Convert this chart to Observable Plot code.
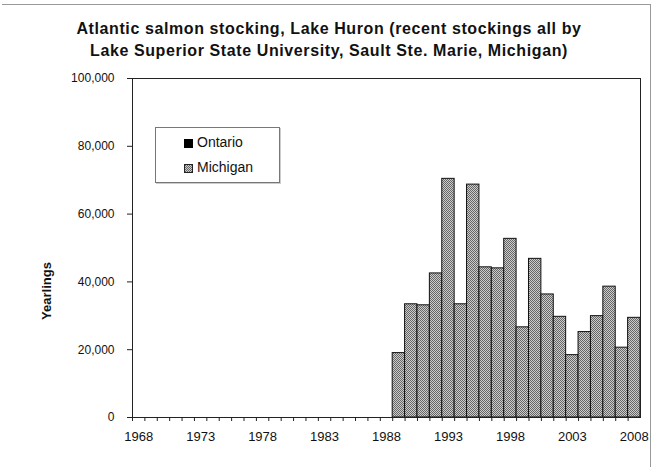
<!DOCTYPE html>
<html><head><meta charset="utf-8">
<script src="https://cdn.jsdelivr.net/npm/d3@7"></script>
<script src="https://cdn.jsdelivr.net/npm/@observablehq/plot@0.6"></script>
<style>
body{margin:0;background:#fff;font-family:"Liberation Sans",Arial,sans-serif;color:#111;}
#wrap{position:relative;width:655px;height:467px;overflow:hidden;background:#fff;}
#border{position:absolute;left:2px;top:4px;width:648px;height:470px;border-top:1px solid #999;border-right:1px solid #999;}
#title{position:absolute;left:0;top:18px;width:658px;text-align:center;font-weight:bold;font-size:16px;letter-spacing:0.6px;line-height:22px;color:#111;}
#chart{position:absolute;left:0;top:62px;}
#ylab{position:absolute;left:46px;top:291px;transform:translate(-50%,-50%) rotate(-90deg);font-weight:bold;font-size:13px;white-space:nowrap;}
#legend{position:absolute;left:155px;top:127px;width:123px;height:54px;border:1px solid #777;box-shadow:1px 1px 0 #ccc;background:#fff;font-size:14px;}
.item{position:absolute;left:28px;height:16px;line-height:16px;}
.item svg{vertical-align:-1px;margin-right:4px;}
</style>
</head><body>
<svg width="0" height="0" style="position:absolute"><defs>
<pattern id="stip" patternUnits="userSpaceOnUse" width="2" height="2">
<rect width="2" height="2" fill="#cccccc"/><rect width="1" height="1" fill="#666666"/><rect x="1" y="1" width="1" height="1" fill="#666666"/>
</pattern></defs></svg>
<div id="wrap">
<div id="border"></div>
<div id="title">Atlantic salmon stocking, Lake Huron (recent stockings all by<br>Lake Superior State University, Sault Ste. Marie, Michigan)</div>
<div id="chart"></div>
<div id="ylab">Yearlings</div>
<div id="legend">
<div class="item" style="top:6px"><svg width="9" height="9"><rect width="9" height="9" fill="#000"/></svg>Ontario</div>
<div class="item" style="top:31px"><svg width="9" height="9"><rect x="0.5" y="0.5" width="8" height="8" fill="url(#stip)" stroke="#222" stroke-width="1"/></svg>Michigan</div>
</div>
</div>
<script>
const years = [1968,1969,1970,1971,1972,1973,1974,1975,1976,1977,1978,1979,1980,1981,1982,1983,1984,1985,1986,1987,1988,
  1989,1990,1991,1992,1993,1994,1995,1996,1997,1998,1999,2000,2001,2002,2003,2004,2005,2006,2007,2008];
const ontario = [0,0,0,0,0,0,0,0,0,0,0,0,0,0,0,0,0,0,0,0,0,
  0,0,0,0,0,0,0,0,0,0,0,0,0,0,0,0,0,0,0,0];
const michigan = [0,0,0,0,0,0,0,0,0,0,0,0,0,0,0,0,0,0,0,0,0,
  19000,33400,33100,42500,70400,33400,68700,44300,44000,52700,26600,46800,36300,29700,18400,25200,29900,38600,20600,29400];
const seriesNames = ["Ontario","Michigan"];
const yTicks = [0,20000,40000,60000,80000,100000];
const xLabelYears = [1968,1973,1978,1983,1988,1993,1998,2003,2008];

const data = years.flatMap((y,i)=>[
  {year:y, series:seriesNames[0], value:ontario[i]},
  {year:y, series:seriesNames[1], value:michigan[i]}
]);
const W=655,H=405,mL=132,mR=15,mT=16,mB=50;
const bw = (W-mL-mR)/years.length;
const plot = Plot.plot({
  width:W, height:H, marginTop:mT, marginBottom:mB, marginLeft:mL, marginRight:mR,
  style:{fontFamily:"Liberation Sans, Arial, sans-serif", fontSize:"12px", color:"#111", background:"transparent"},
  x:{type:"band", domain:years, padding:0, round:false, label:null, axis:null},
  y:{domain:[0,100000], label:null, axis:null},
  color:{type:"identity"},
  marks:[
    Plot.barY(data, Plot.stackY({filter:d=>d.value>0, x:"year", y:"value", order:seriesNames,
      fill:d=>d.series==="Ontario"?"#000":"url(#stip)", stroke:"#111", strokeWidth:1, inset:0})),
    Plot.frame({stroke:"#222", strokeWidth:1}),
    Plot.axisY({ticks:yTicks, tickSize:5, tickPadding:13, tickFormat:d3.format(","), label:null, stroke:"#222"}),
    Plot.axisX({ticks:years, tickSize:4, tickFormat:()=>"", dx:-bw/2, label:null, stroke:"#222"}),
    Plot.axisX({ticks:xLabelYears, tickSize:0, tickPadding:14, fontSize:13, tickFormat:d=>String(d), label:null})
  ]
});
document.getElementById("chart").appendChild(plot);
</script>
</body></html>
